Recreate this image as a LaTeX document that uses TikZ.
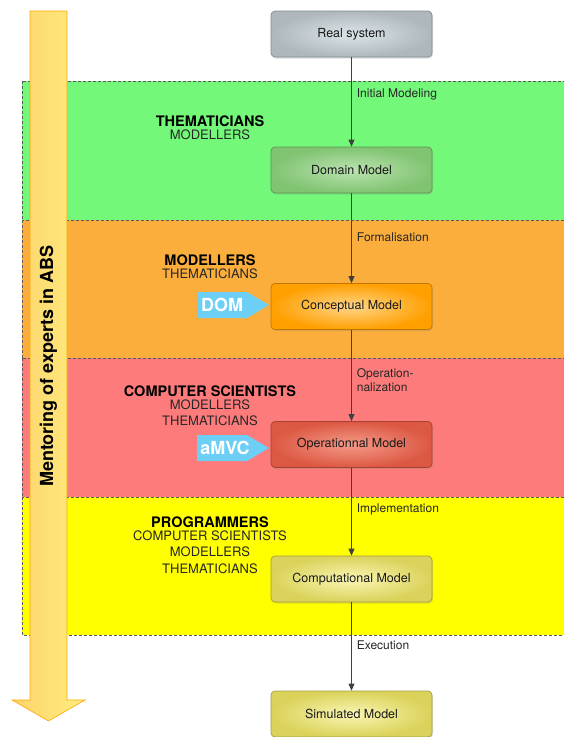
\documentclass[tikz,border=0pt]{standalone}
\usepackage{fontspec}
\setmainfont{TeX Gyre Heros}
\usetikzlibrary{arrows.meta,shadows,positioning}

\definecolor{bandgreen}{HTML}{73F879}
\definecolor{bandorange}{HTML}{FBAE3C}
\definecolor{bandred}{HTML}{FD7C7B}
\definecolor{bandyellow}{HTML}{FFFF00}
\definecolor{tagblue}{HTML}{6DCFF6}
\definecolor{mentorL}{HTML}{FCD46C}
\definecolor{mentorR}{HTML}{FFEC80}
\definecolor{realO}{HTML}{AEB8BC}
\definecolor{realI}{HTML}{DCE6EA}
\definecolor{domO}{HTML}{80C472}
\definecolor{domI}{HTML}{BBE3B0}
\definecolor{conO}{HTML}{FF9F00}
\definecolor{conI}{HTML}{FFD68A}
\definecolor{opeO}{HTML}{DC5843}
\definecolor{opeI}{HTML}{F49A88}
\definecolor{comO}{HTML}{DAD25A}
\definecolor{comI}{HTML}{FAF6B4}

\tikzset{
  band/.style={draw=black!65, dashed, dash pattern=on 3pt off 2pt, line width=0.6pt},
  model/.style={draw=#1O!75!black, shading=radial, inner color=#1I, outer color=#1O,
    rounded corners=4pt, minimum width=161pt, minimum height=46pt,
    font=\fontsize{12.5}{14}\selectfont, text=black!90, line width=0.7pt,
    drop shadow={opacity=0.25, shadow xshift=1pt, shadow yshift=-1.5pt}},
  flow/.style={draw=black!75, line width=0.8pt, -{Triangle[length=7pt,width=6pt]}},
  elabel/.style={anchor=west, xshift=5pt, font=\fontsize{12}{14}\selectfont, text=black!85, align=left, inner sep=0pt},
  role/.style={font=\fontsize{14.5}{16.5}\selectfont\bfseries},
  sub/.style={font=\fontsize{13}{16.5}\selectfont, text=black!85},
  tagtext/.style={font=\fontsize{18}{20}\selectfont\bfseries, text=white}
}

\begin{document}
\begin{tikzpicture}[x=1pt,y=-1pt]
\useasboundingbox (0,0) rectangle (564,737);

% the four bands
\draw [band,fill=bandgreen] (22,81) rectangle (590,220);
\draw [band,fill=bandorange] (22,220) rectangle (590,358);
\draw [band,fill=bandred] (22,358) rectangle (590,497);
\draw [band,fill=bandyellow] (22,497) rectangle (590,635);

% mentoring arrow
\shade [left color=mentorL,right color=mentorR,draw=orange!70!yellow,line width=0.6pt]
  (30,11)--(67,11)--(67,700)--(85,700)--(48.5,721)--(12,700)--(30,700)--cycle;
\node [rotate=90,font=\fontsize{18}{20}\selectfont\bfseries] (mentor) at (48.5,366) {Mentoring of experts in ABS};

% models
\node [model=real] (real) at (351.5,34) {Real system};
\node [model=dom] (domain) at (351.5,170) {Domain Model};
\node [model=con] (concept) at (351.5,306.5) {Conceptual Model};
\node [model=ope] (oper) at (351.5,444.5) {Operationnal Model};
\node [model=com] (comput) at (351.5,579) {Computational Model};
\node [model=com] (simul) at (351.5,714) {Simulated Model};

% transitions
\draw [flow] (real) -- node [elabel,pos=0.41] {Initial Modeling} (domain);
\draw [flow] (domain) -- node [elabel,pos=0.49] {Formalisation} (concept);
\draw [flow] (concept) -- node [elabel,pos=0.55] {Operation-\\nalization} (oper);
\draw [flow] (oper) -- node [elabel,pos=0.47] {Implementation} (comput);
\draw [flow] (comput) -- node [elabel,pos=0.48] {Execution} (simul);

% who works at each level
\node [role] (them) at (210,121) {THEMATICIANS};
\node [sub,below=-4pt of them] (themA) {MODELLERS};
\node [role] (mod) at (210,260) {MODELLERS};
\node [sub,below=-4pt of mod] (modA) {THEMATICIANS};
\node [role] (comp) at (210,391) {COMPUTER SCIENTISTS};
\node [sub,align=center,below=-4pt of comp] (compA) {MODELLERS\\THEMATICIANS};
\node [role] (prog) at (210,522) {PROGRAMMERS};
\node [sub,align=center,below=-4pt of prog] (progA) {COMPUTER SCIENTISTS\\MODELLERS\\THEMATICIANS};

% tags
\fill [tagblue] (197,292)--(247,292)--(269,305)--(247,318)--(197,318)--cycle;
\node [tagtext] (dom) at (222,305) {DOM};
\fill [tagblue] (197,435)--(247,435)--(269,448)--(247,461)--(197,461)--cycle;
\node [tagtext] (amvc) at (225,448) {aMVC};

\end{tikzpicture}
\end{document}
